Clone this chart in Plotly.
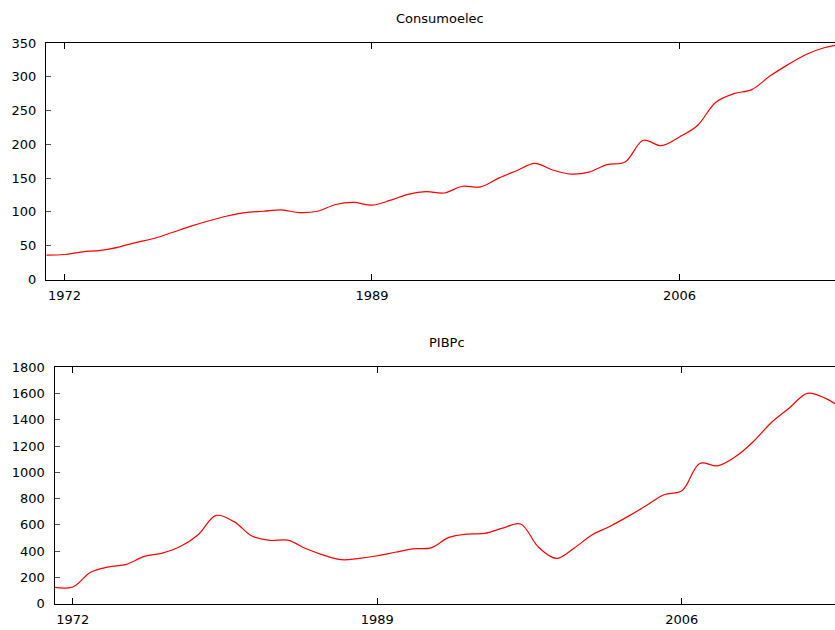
import plotly.graph_objects as go

# Annual series, 1971-2015
years = list(range(1971, 2016))

consumoelec = [36, 37, 41, 43, 48, 55, 61, 70, 79, 87,
               94, 99, 101, 103, 99, 101, 111, 114, 110, 117,
               126, 130, 128, 138, 137, 150, 161, 172, 162, 156,
               159, 170, 174, 206, 198, 211, 228, 262, 275, 281,
               301, 318, 333, 343, 348]

pibpc = [124, 127, 240, 280, 300, 360, 385, 435, 525, 672,
         625, 515, 482, 484, 420, 370, 335, 345, 365, 392,
         418, 425, 505, 530, 535, 575, 607, 430, 345, 425,
         525, 590, 665, 745, 830, 860, 1068, 1050, 1120, 1235,
         1380, 1490, 1602, 1565, 1480]

year_ticks = [1972, 1989, 2006]
titles = ["Consumoelec", "PIBPc"]

W, H = 835, 630
FONT = "DejaVu Sans"
RED = "#ff0000"

fig = go.Figure()
fig.add_trace(go.Scatter(x=years, y=consumoelec, mode="lines",
                         line=dict(color=RED, width=1.2, shape="spline", smoothing=1.0),
                         xaxis="x", yaxis="y", showlegend=False))
fig.add_trace(go.Scatter(x=years, y=pibpc, mode="lines",
                         line=dict(color=RED, width=1.2, shape="spline", smoothing=1.0),
                         xaxis="x2", yaxis="y2", showlegend=False))

common_x = dict(showline=True, linecolor="black", linewidth=1, mirror="ticks",
                ticks="inside", ticklen=6, tickcolor="black", tickwidth=1,
                tickvals=year_ticks, ticktext=[str(t) for t in year_ticks],
                showgrid=False, zeroline=False, automargin=False,
                tickfont=dict(family=FONT, size=13, color="black"),
                ticklabelstandoff=4)
common_y = dict(showline=True, linecolor="black", linewidth=1, mirror=False,
                ticks="inside", ticklen=5, tickcolor="#555", tickwidth=1,
                showgrid=False, zeroline=False, automargin=False,
                tickfont=dict(family=FONT, size=13, color="black"),
                ticklabelstandoff=6)

fig.update_layout(
    width=W, height=H,
    margin=dict(l=0, r=0, t=0, b=0),
    paper_bgcolor="white", plot_bgcolor="white",
    xaxis=dict(domain=[46 / W, 1.0], range=[1970.98, 2014.6], anchor="y", **common_x),
    yaxis=dict(domain=[1 - 279.5 / H, 1 - 43 / H], range=[0, 350], dtick=50,
               anchor="x", **common_y),
    xaxis2=dict(domain=[54.5 / W, 1.0], range=[1970.98, 2014.55], anchor="y2", **common_x),
    yaxis2=dict(domain=[1 - 603.7 / H, 1 - 367.3 / H], range=[0, 1800], dtick=200,
                anchor="x2", **common_y),
    annotations=[
        dict(text=titles[0], x=440.5 / W, y=1 - 18 / H, xref="paper", yref="paper",
             xanchor="center", yanchor="middle", showarrow=False,
             font=dict(family=FONT, size=13, color="black")),
        dict(text=titles[1], x=447 / W, y=1 - 342.5 / H, xref="paper", yref="paper",
             xanchor="center", yanchor="middle", showarrow=False,
             font=dict(family=FONT, size=13, color="black")),
    ],
)

fig.write_html("out.html")
